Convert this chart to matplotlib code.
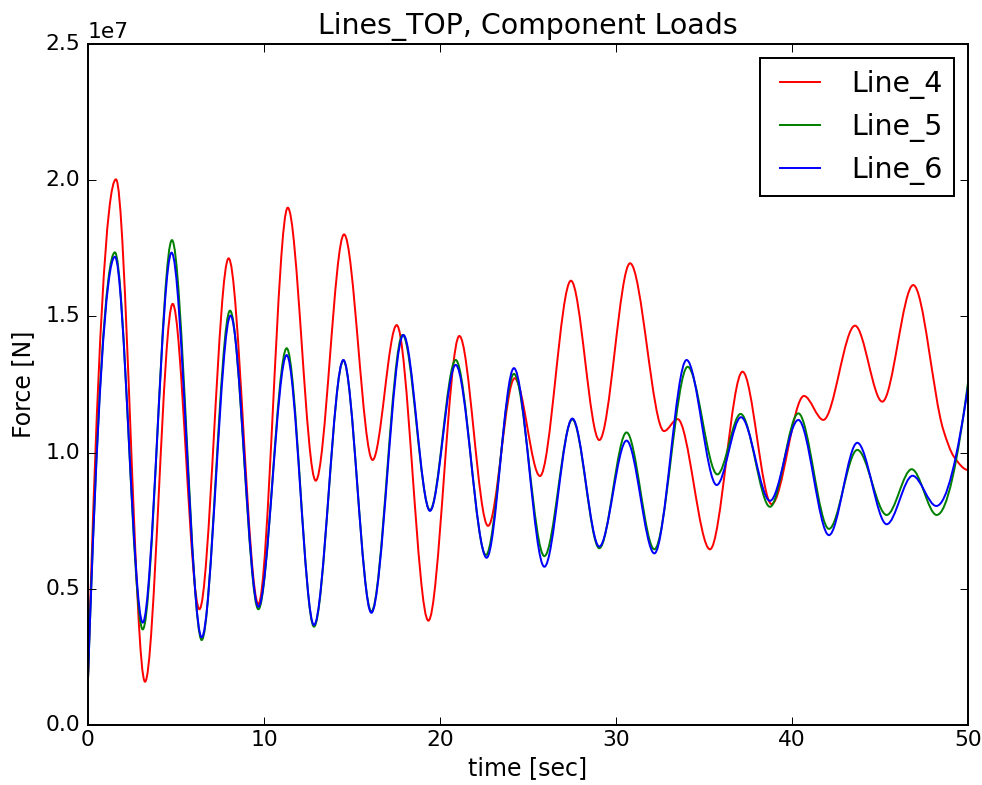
import numpy as np
import matplotlib
matplotlib.use("Agg")
import matplotlib.pyplot as plt
from matplotlib.path import Path
from matplotlib.patches import PathPatch
from matplotlib.lines import Line2D

plt.style.use("classic")

# ---- data (turning points of each curve), force in N ----
t_line4 = [0.0, 1.59, 3.24, 4.81, 6.33, 7.99, 9.68, 11.35, 12.94, 14.55, 16.17, 17.54,
           19.34, 21.10, 22.73, 24.24, 25.68, 27.44, 29.05, 30.80, 32.73, 33.50, 35.34,
           37.19, 38.84, 40.68, 41.78, 43.58, 45.13, 46.89, 48.60, 49.20, 50.0]
f_line4 = [1.7e6, 20.03e6, 1.59e6, 15.46e6, 4.25e6, 17.13e6, 4.44e6, 18.99e6, 8.97e6,
           18.01e6, 9.73e6, 14.68e6, 3.83e6, 14.28e6, 7.31e6, 12.73e6, 9.14e6, 16.31e6,
           10.46e6, 16.95e6, 10.79e6, 11.23e6, 6.45e6, 12.97e6, 8.11e6, 12.08e6, 11.20e6,
           14.66e6, 11.87e6, 16.15e6, 10.83e6, 9.85e6, 9.36e6]

t_line5 = [0.0, 1.53, 3.11, 4.77, 6.46, 8.07, 9.68, 11.29, 12.84, 14.51, 16.10, 17.88,
           19.43, 20.89, 22.61, 24.20, 25.93, 27.52, 29.05, 30.60, 32.18, 34.07, 35.76,
           37.08, 38.75, 40.36, 42.10, 43.71, 45.38, 46.80, 48.22, 50.0]
f_line5 = [1.7e6, 17.35e6, 3.51e6, 17.80e6, 3.12e6, 15.21e6, 4.25e6, 13.83e6, 3.61e6,
           13.38e6, 4.16e6, 14.32e6, 7.89e6, 13.40e6, 6.24e6, 12.89e6, 6.20e6, 11.22e6,
           6.49e6, 10.74e6, 6.45e6, 13.15e6, 9.20e6, 11.42e6, 8.01e6, 11.44e6, 7.20e6,
           10.10e6, 7.71e6, 9.39e6, 7.71e6, 12.57e6]

t_line6 = [0.0, 1.53, 3.11, 4.75, 6.46, 8.10, 9.68, 11.29, 12.84, 14.51, 16.10, 17.92,
           19.43, 20.89, 22.65, 24.20, 25.93, 27.52, 29.05, 30.60, 32.18, 34.01, 35.72,
           37.10, 38.75, 40.36, 42.10, 43.71, 45.38, 46.85, 48.20, 50.0]
f_line6 = [1.7e6, 17.19e6, 3.76e6, 17.34e6, 3.22e6, 15.03e6, 4.34e6, 13.58e6, 3.67e6,
           13.40e6, 4.12e6, 14.32e6, 7.86e6, 13.22e6, 6.14e6, 13.10e6, 5.81e6, 11.25e6,
           6.55e6, 10.44e6, 6.30e6, 13.40e6, 8.81e6, 11.30e6, 8.23e6, 11.20e6, 6.97e6,
           10.36e6, 7.37e6, 9.15e6, 8.04e6, 12.42e6]

series_names = ["Line_4", "Line_5", "Line_6"]
series_colors = ["r", "g", "b"]
series_t = [t_line4, t_line5, t_line6]
series_f = [f_line4, f_line5, f_line6]


def tangent_slopes(x, y):
    x = np.asarray(x, float)
    y = np.asarray(y, float)
    h = np.diff(x)
    d = np.diff(y) / h
    m = np.zeros_like(y)
    for k in range(1, len(y) - 1):
        if d[k - 1] * d[k] <= 0:
            m[k] = 0.0
        else:
            w1 = 2 * h[k] + h[k - 1]
            w2 = h[k] + 2 * h[k - 1]
            m[k] = (w1 + w2) / (w1 / d[k - 1] + w2 / d[k])

    def end(h0, h1, d0, d1):
        s = ((2 * h0 + h1) * d0 - h0 * d1) / (h0 + h1)
        if np.sign(s) != np.sign(d0):
            return 0.0
        if np.sign(d0) != np.sign(d1) and abs(s) > abs(3 * d0):
            return 3 * d0
        return s

    m[0] = end(h[0], h[1], d[0], d[1])
    m[-1] = end(h[-1], h[-2], d[-1], d[-2])
    return m


def smooth_path(x, y):
    m = tangent_slopes(x, y)
    verts = [(x[0], y[0])]
    codes = [Path.MOVETO]
    for i in range(len(x) - 1):
        dt = (x[i + 1] - x[i]) / 3.0
        verts += [(x[i] + dt, y[i] + m[i] * dt),
                  (x[i + 1] - dt, y[i + 1] - m[i + 1] * dt),
                  (x[i + 1], y[i + 1])]
        codes += [Path.CURVE4] * 3
    return Path(verts, codes)


DPI = 142
fig = plt.figure(figsize=(982 / DPI, 785 / DPI), dpi=DPI, facecolor="white")
ax = fig.add_axes([88 / 982, 60 / 785, 880 / 982, 681 / 785])

handles = []
for name, col, tt, ff in zip(series_names, series_colors, series_t, series_f):
    patch = PathPatch(smooth_path(tt, ff), facecolor="none", edgecolor=col, lw=1.0)
    ax.add_patch(patch)
    handles.append(Line2D([], [], color=col, lw=1.0))

ax.set_xlim(0, 50)
ax.set_ylim(0, 2.5e7)
ax.tick_params(axis="both", labelsize=11)
ax.tick_params(axis="x", pad=2.5)
ax.yaxis.get_offset_text().set_fontsize(11)
ax.set_xlabel("time [sec]", fontsize=12, labelpad=3)
ax.set_ylabel("Force [N]", fontsize=12)
ax.set_title("Lines_TOP, Component Loads")
ax.legend(handles, series_names, loc="upper right")

fig.savefig("out.png", dpi=DPI, facecolor="white")
